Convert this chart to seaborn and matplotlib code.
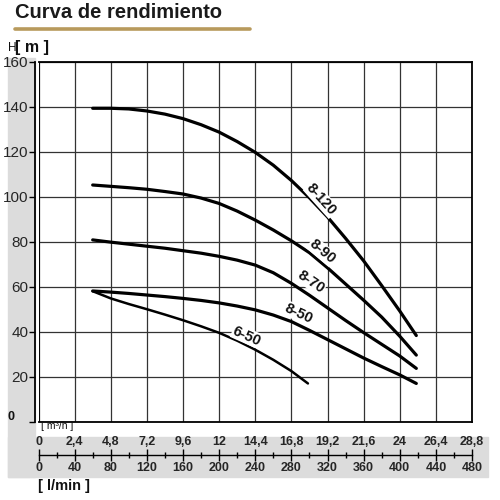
import matplotlib
matplotlib.use("Agg")
from matplotlib import pyplot as plt
from matplotlib import font_manager
from matplotlib.patches import Rectangle
from matplotlib.lines import Line2D
from matplotlib.ticker import FixedLocator, MultipleLocator
import seaborn as sns

# pump curves: flow Q [m3/h] -> head H [m]
q_8_120 = [3.6, 4.8, 6.0, 7.2, 8.4, 9.6, 10.8, 12.0, 13.2, 14.4, 15.6, 16.8,
           18.0, 19.2, 20.4, 21.6, 22.8, 24.0, 25.1]
h_8_120 = [139.3, 139.3, 139.0, 138.1, 136.7, 134.7, 132.0, 128.7, 124.5, 119.7,
           114.0, 107.2, 99.5, 91.0, 81.5, 71.5, 60.5, 49.2, 38.3]

q_8_90 = [3.6, 4.8, 6.0, 7.2, 8.4, 9.6, 10.8, 12.0, 13.2, 14.4, 15.6, 16.8,
          18.0, 19.2, 20.4, 21.6, 22.8, 24.0, 25.1]
h_8_90 = [105.2, 104.6, 104.0, 103.3, 102.3, 101.2, 99.4, 97.0, 93.6, 89.6,
          85.2, 80.4, 75.1, 68.4, 61.2, 54.0, 46.5, 38.0, 29.6]

q_8_70 = [3.6, 4.8, 6.0, 7.2, 8.4, 9.6, 10.8, 12.0, 13.2, 14.4, 15.6, 16.8,
          18.0, 19.2, 20.4, 21.6, 22.8, 24.0, 25.1]
h_8_70 = [80.8, 79.8, 78.9, 78.0, 77.1, 76.0, 74.9, 73.5, 71.8, 69.6, 66.2,
          61.5, 56.2, 50.6, 45.0, 39.6, 34.4, 29.2, 23.7]

q_8_50 = [3.6, 4.8, 6.0, 7.2, 8.4, 9.6, 10.8, 12.0, 13.2, 14.4, 15.6, 16.8,
          18.0, 19.2, 20.4, 21.6, 22.8, 24.0, 25.1]
h_8_50 = [58.1, 57.6, 57.0, 56.3, 55.6, 54.8, 53.9, 52.8, 51.4, 49.7, 47.4,
          44.5, 40.6, 36.5, 32.4, 28.3, 24.5, 20.8, 17.0]

q_6_50 = [3.6, 4.8, 6.0, 7.2, 8.4, 9.6, 10.8, 12.0, 13.2, 14.4, 15.6, 16.8, 17.9]
h_6_50 = [58.0, 54.8, 52.3, 50.0, 47.6, 45.1, 42.4, 39.5, 36.0, 32.0, 27.5,
          22.5, 17.0]

curve_names = ["8-120", "8-90", "8-70", "8-50", "6-50"]

# curve labels (in data coords) and their angle on screen
label_q = [18.8, 18.85, 18.1, 17.25, 13.85]
label_h = [98.8, 75.6, 62.2, 48.2, 38.1]
label_rot = [-48, -40, -34, -25, -24]

# axis ticks
m3h_ticks = [0, 2.4, 4.8, 7.2, 9.6, 12, 14.4, 16.8, 19.2, 21.6, 24, 26.4, 28.8]
m3h_labels = ["0", "2,4", "4,8", "7,2", "9,6", "12", "14,4", "16,8", "19,2",
              "21,6", "24", "26,4", "28,8"]
lmin_ticks = [0, 40, 80, 120, 160, 200, 240, 280, 320, 360, 400, 440, 480]
h_ticks = [0, 20, 40, 60, 80, 100, 120, 140, 160]

sns.set_theme(style="white")
names = {f.name for f in font_manager.fontManager.ttflist}
narrow = "Liberation Sans Narrow" if "Liberation Sans Narrow" in names else "Liberation Sans"
plt.rcParams["font.family"] = ["Liberation Sans", "DejaVu Sans"]
plt.rcParams["text.color"] = "#111111"


def fx(px):
    return px / 500


def fy(py):
    return 1 - py / 500


fig = plt.figure(figsize=(5, 5), dpi=100)

# grey bands behind the tick labels
fig.add_artist(Rectangle((fx(8), fy(477)), fx(35) - fx(8), fy(58) - fy(477),
                         transform=fig.transFigure, color="#dcdcdc", zorder=0))
fig.add_artist(Rectangle((fx(8), fy(477)), fx(488) - fx(8), fy(437) - fy(477),
                         transform=fig.transFigure, color="#dcdcdc", zorder=0))

# title + gold rule
fig.text(fx(15), fy(18), "Curva de rendimiento", fontsize=14.5, weight="bold",
         color="#1a1a1a", va="baseline", ha="left")
fig.add_artist(Line2D([fx(15), fx(250)], [fy(29.5), fy(29.5)], color="#b89a5c",
                      lw=2.6, transform=fig.transFigure))

ax = fig.add_axes([fx(38.5), fy(421.7), fx(472) - fx(38.5), fy(61.7) - fy(421.7)])
ax.set_facecolor("white")

curves = [(q_8_120, h_8_120), (q_8_90, h_8_90), (q_8_70, h_8_70),
          (q_8_50, h_8_50), (q_6_50, h_6_50)]
for name, (q, h) in zip(curve_names, curves):
    sns.lineplot(x=q, y=h, ax=ax, color="black", sort=False,
                 lw=1.8 if name == "6-50" else 2.3, zorder=3, legend=False)

for name, q, h, r in zip(curve_names, label_q, label_h, label_rot):
    ax.text(q, h, name, family=[narrow, "DejaVu Sans"], fontsize=10.5,
            weight="bold", rotation=r, rotation_mode="anchor", ha="center",
            va="center", zorder=4,
            bbox=dict(boxstyle="square,pad=0.05", fc="white", ec="none"))

ax.set_xlim(0, 28.8)
ax.set_ylim(0, 160)
ax.set_xticks(m3h_ticks)
ax.set_xticklabels(m3h_labels, fontsize=9, weight="bold")
ax.set_yticks(h_ticks)
ax.set_yticklabels([""] + [str(v) for v in h_ticks[1:]], fontsize=9, weight="bold")
ax.grid(True, color="#333333", lw=0.9)
ax.tick_params(axis="x", length=0, pad=10.3)
ax.tick_params(axis="y", left=True, length=4, width=1, pad=1, color="black")
ax.set_xlabel("")
ax.set_ylabel("")
for s in ax.spines.values():
    s.set_color("black")
    s.set_linewidth(1.3)
ax.spines["left"].set_position(("outward", 2.2))
ax.axvline(0, color="black", lw=1.3, zorder=5)

fig.text(fx(11), fy(417.5), "0", fontsize=9, weight="bold", ha="center", va="center")

# axis unit labels
fig.text(fx(8), fy(51), "H", fontsize=8.5, ha="left", va="baseline")
fig.text(fx(15), fy(52), "[ m ]", family=[narrow, "DejaVu Sans"], fontsize=11.5,
         weight="bold", ha="left", va="baseline")
fig.text(fx(41), fy(426), "[ m³/h ]", fontsize=7.5, ha="left", va="center")
fig.text(fx(38), fy(486), "[ l/min ]", family=[narrow, "DejaVu Sans"], fontsize=10.5,
         weight="bold", ha="left", va="center")

# second flow scale in l/min
sax = fig.add_axes([fx(38.5), fy(455), fx(472) - fx(38.5), 0.0001])
sax.patch.set_visible(False)
for side in ["left", "right", "top"]:
    sax.spines[side].set_visible(False)
sax.spines["bottom"].set_color("black")
sax.spines["bottom"].set_linewidth(1)
sax.set_xlim(0, 480)
sax.set_yticks([])
sax.xaxis.set_major_locator(FixedLocator(lmin_ticks))
sax.xaxis.set_minor_locator(MultipleLocator(20))
sax.set_xticklabels([str(v) for v in lmin_ticks], fontsize=9, weight="bold")
sax.tick_params(axis="x", which="major", direction="inout", length=8.5, width=1,
                pad=0.5, color="black", bottom=True)
sax.tick_params(axis="x", which="minor", direction="inout", length=4, width=1,
                color="black", bottom=True)

fig.savefig("out.png", dpi=100)
